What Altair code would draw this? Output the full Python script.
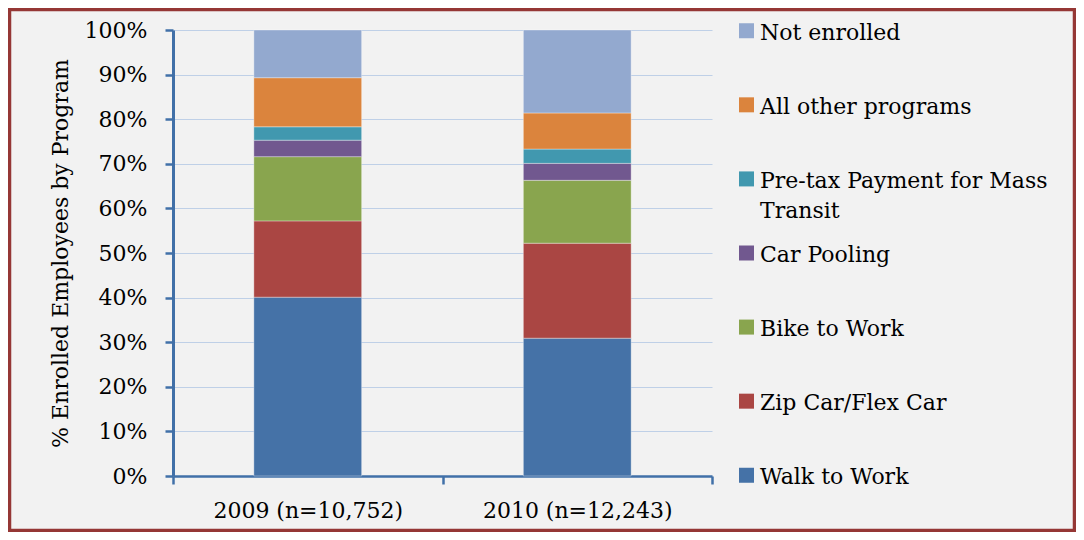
import altair as alt
import pandas as pd

years = ["2009 (n=10,752)", "2010 (n=12,243)"]
programs = ["Walk to Work", "Zip Car/Flex Car", "Bike to Work", "Car Pooling",
            "Pre-tax Payment for Mass Transit", "All other programs", "Not enrolled"]
legend_labels = ["Walk to Work", "Zip Car/Flex Car", "Bike to Work", "Car Pooling",
                 "Pre-tax Payment for Mass\nTransit", "All other programs", "Not enrolled"]
colors = ["#4572A7", "#AA4643", "#89A54E", "#71588F", "#4198AF", "#DB843D", "#93A9CF"]
v2009 = [40.1, 17.1, 14.4, 3.7, 3.0, 11.0, 10.7]
v2010 = [30.9, 21.3, 14.1, 3.8, 3.2, 8.1, 18.6]

rows = []
for yr, vals in zip(years, [v2009, v2010]):
    for i, (p, v) in enumerate(zip(programs, vals)):
        rows.append({"year": yr, "program": p, "value": v, "idx": i})
df = pd.DataFrame(rows)
leg = pd.DataFrame({"program": programs, "label": legend_labels})

FONT = "DejaVu Serif"
AXC = "#4170A8"
color = alt.Color("program:N", scale=alt.Scale(domain=programs, range=colors), legend=None)

bars = alt.Chart(df).mark_bar(
    width=alt.RelativeBandSize(0.4), stroke="white", strokeOpacity=0.35, strokeWidth=1
).encode(
    x=alt.X("year:N", sort=years,
            scale=alt.Scale(paddingInner=0, paddingOuter=0),
            axis=alt.Axis(title=None, labelAngle=0, tickBand="extent", grid=False,
                          domainColor=AXC, domainWidth=2.5, tickColor=AXC, tickWidth=2.5,
                          tickSize=8, labelPadding=16, labelFontSize=22, labelFont=FONT,
                          labelColor="#000000", labelLimit=400)),
    y=alt.Y("value:Q", stack="normalize", scale=alt.Scale(domain=[0, 1]),
            axis=alt.Axis(title="% Enrolled Employees by Program", format=".0%",
                          values=[i / 10 for i in range(11)],
                          domainColor=AXC, domainWidth=3, tickColor=AXC, tickWidth=2.5,
                          tickSize=8, labelPadding=18, labelFontSize=22, labelFont=FONT,
                          labelColor="#000000", titleFont=FONT, titleFontSize=22,
                          titleFontWeight="normal", titleColor="#000000", titlePadding=12,
                          gridColor="#BFD0E7", gridWidth=1)),
    color=color,
    order=alt.Order("idx:Q", sort="ascending"),
)

ly = alt.Y("program:N", scale=alt.Scale(type="point", domain=programs[::-1], padding=0.01),
           axis=None)
squares = alt.Chart(leg).mark_square(size=225, opacity=1).encode(
    x=alt.value(573.5), y=ly, color=color)
texts = alt.Chart(leg).mark_text(
    align="left", baseline="top", dy=-8, fontSize=22, font=FONT, lineBreak="\n",
    lineHeight=30, color="#000000"
).encode(x=alt.value(587), y=ly, text="label:N")

frame = alt.Chart(pd.DataFrame({"a": [0]})).mark_rect(
    fillOpacity=0, stroke="#953735", strokeWidth=3.5
).encode(x=alt.value(-163.5), x2=alt.value(901.5), y=alt.value(-20.5), y2=alt.value(500.5))

chart = alt.layer(bars, squares, texts, frame).resolve_scale(y="independent").properties(
    width=539, height=446,
    autosize=alt.AutoSizeParams(type="none"),
    padding={"left": 165, "top": 22, "right": 364, "bottom": 56},
    background="#F2F2F2",
).configure_view(strokeWidth=0)

chart.save("out.html", embed_options={"renderer": "svg", "actions": False})
